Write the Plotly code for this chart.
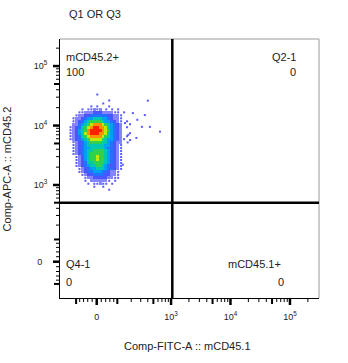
import numpy as np
import plotly.graph_objects as go

# ---------------------------------------------------------------- scale
LN10 = np.log(10.0)
FITC_W = 113.0   # near-linear width of the FITC biexponential axis
APC_W = 103.0    # near-linear width of the APC biexponential axis


def biex(v, w):
    """Biexponential (arcsinh) display transform, in decades."""
    return np.arcsinh(np.asarray(v, dtype=float) / w) / LN10


X_RANGE = [-0.617, 3.736]
Y_RANGE = [-0.610, 3.743]


def to_frac(d, rng):
    """Display decades -> fraction of the plotting area."""
    return (np.asarray(d, dtype=float) - rng[0]) / (rng[1] - rng[0])


# ---------------------------------------------------------------- ticks
major_vals = [0, 1e3, 1e4, 1e5]
x_major_text = ["0", "10<sup>3</sup>", "10<sup>4</sup>", "10<sup>5</sup>"]
y_major_text = ["0\u2007", "10<sup>3</sup>", "10<sup>4</sup>", "10<sup>5</sup>"]
mid_vals = [-100, 100, 500, 5000, 50000]
minor_vals = ([-80, -60, -40, -20, 20, 40, 60, 80]
              + [200, 300, 400, 600, 700, 800, 900]
              + [2000, 3000, 4000, 6000, 7000, 8000, 9000]
              + [20000, 30000, 40000, 60000, 70000, 80000, 90000, 200000])

# ---------------------------------------------------------------- gates
FITC_GATE = 1050.0
APC_GATE = 500.0

sample_title = "Q1 OR Q3"
x_title = "Comp-FITC-A :: mCD45.1"
y_title = "Comp-APC-A :: mCD45.2"
quad_names = ["mCD45.2+", "Q2-1", "Q4-1", "mCD45.1+"]
quad_freqs = ["100", "0", "0", "0"]

# ------------------------------------------------- population density
# Density level per bin ('.' = no events, 1 = sparse ... a = highest).
# Bins are 0.05 decades wide on both display axes; rows run top -> bottom.
GRID_STEP = 0.05
GRID_X0 = -0.44     # centre of first column (FITC display decades)
GRID_Y0 = 2.810     # centre of first row (APC display decades)
density_rows = [
    ".........1............",
    "......................",
    ".............1........",
    "...........1..........",
    ".......1.1...1........",
    "....1.11212.1.1.1.....",
    "...11222333222211.1...",
    "..1223344444433221....",
    ".12234556665543221....",
    ".12345677776554321.1..",
    ".22456789998765432..1.",
    "12346789aa99865432.1..",
    "1235679aaaa9875432....",
    "1235689aaa99865432..1.",
    "123467899998765432.1..",
    "1234567888876554321...",
    ".12345677776654322....",
    ".12345666666554321....",
    ".12345566666544321....",
    ".12345667777654321....",
    ".12345677777654321....",
    "..1235677877654321....",
    "..1235677877654321....",
    "..1234667777654321....",
    "..1234566776543321....",
    "...123455666544321....",
    "...12344555443221.....",
    "....1233444433221.....",
    ".....122333332211.....",
    ".....1.2222221.1......",
    "......1.11211.1.......",
    "........1..1..........",
    ".............1........",
    "......................",
]

# isolated events away from the main population (FITC, APC)
stray_fitc = [400, 215, 355, 315, 435, 650, 190, 250, 150, 135, 175, 260, 170]
stray_apc = [26200, 16200, 15000, 9500, 9500, 7900, 5700, 6200, 11000, 2200, 7000, 12500, 5200]

level_colors = ["#5a5aff", "#8484ff", "#4a56ff", "#2272ff", "#00a0f0",
                "#00c8b0", "#30d050", "#c0e800", "#ff9000", "#ff2000"]

# ---------------------------------------------------------------- build
levels = "123456789a"
z = []
sparse_x, sparse_y = [], []
for r, row in enumerate(density_rows):
    zr = []
    for c, ch in enumerate(row):
        lv = levels.index(ch) + 1 if ch in levels else None
        if lv == 1:
            sparse_x.append(GRID_X0 + GRID_STEP * c)
            sparse_y.append(GRID_Y0 - GRID_STEP * r)
            lv = None
        zr.append(np.nan if lv is None else lv)
    z.append(zr)
z = np.array(z, dtype=float)
xc = GRID_X0 + GRID_STEP * np.arange(z.shape[1])
yc = GRID_Y0 - GRID_STEP * np.arange(z.shape[0])

n = len(level_colors)
cscale = []
for i, col in enumerate(level_colors):
    cscale.append([i / n, col])
    cscale.append([(i + 1) / n, col])

fig = go.Figure()
fig.add_trace(go.Heatmap(x=xc, y=yc, z=z, zmin=0.5, zmax=n + 0.5,
                         colorscale=cscale, showscale=False, zsmooth=False,
                         hoverinfo="skip"))
fig.add_trace(go.Scatter(
    x=sparse_x + list(biex(stray_fitc, FITC_W)),
    y=sparse_y + list(biex(stray_apc, APC_W)),
    mode="markers", hoverinfo="skip",
    marker=dict(size=2, color=level_colors[0], symbol="square", line=dict(width=0))))

FONT = "Arial, 'Liberation Sans', sans-serif"
TXT = "#222222"

PLOT_W, PLOT_H = 259, 259
axis_common = dict(ticks="outside", ticklen=7, tickcolor="rgba(0,0,0,0)",
                   ticklabelstandoff=3, showgrid=False, zeroline=False,
                   showline=True, linecolor="black", linewidth=1, tickmode="array",
                   tickfont=dict(family=FONT, size=9, color=TXT))
fig.update_layout(
    width=348, height=363,
    margin=dict(l=60, r=348 - 60 - PLOT_W, t=39, b=363 - 39 - PLOT_H),
    plot_bgcolor="white", paper_bgcolor="white",
    showlegend=False,
    font=dict(family=FONT, color=TXT, size=9),
    xaxis=dict(range=X_RANGE, tickvals=list(biex(major_vals, FITC_W)),
               ticktext=x_major_text, **axis_common),
    yaxis=dict(range=Y_RANGE, tickvals=list(biex(major_vals, APC_W)),
               ticktext=y_major_text, **axis_common),
)

# tick marks drawn outside the frame: (values, length px, width px)
tick_sets = [(major_vals, 7, 2.5), (mid_vals, 6, 2), (minor_vals, 4, 1)]
for vals, ln, wd in tick_sets:
    for f in to_frac(biex(vals, FITC_W), X_RANGE):
        fig.add_shape(type="line", xref="paper", yref="paper",
                      x0=float(f), x1=float(f), y0=0, y1=-ln / PLOT_H,
                      line=dict(color="black", width=wd))
    for f in to_frac(biex(vals, APC_W), Y_RANGE):
        fig.add_shape(type="line", xref="paper", yref="paper",
                      y0=float(f), y1=float(f), x0=0, x1=-ln / PLOT_W,
                      line=dict(color="black", width=wd))

# frame: grey top/right edges
fig.add_shape(type="line", xref="paper", yref="paper", x0=0, x1=1, y0=1, y1=1,
              line=dict(color="#9a9a9a", width=1))
fig.add_shape(type="line", xref="paper", yref="paper", x0=1, x1=1, y0=0, y1=1,
              line=dict(color="#9a9a9a", width=1))

# quadrant gate
gx = float(biex(FITC_GATE, FITC_W))
gy = float(biex(APC_GATE, APC_W))
fig.add_shape(type="line", xref="x", yref="paper", x0=gx, x1=gx, y0=0, y1=1,
              line=dict(color="black", width=2.5))
fig.add_shape(type="line", xref="paper", yref="y", x0=0, x1=1, y0=gy, y1=gy,
              line=dict(color="black", width=2.5))

LBL = dict(family=FONT, size=11, color=TXT)
# name / frequency pairs: (x, anchor, y name, y freq)
quad_pos = [(0.016, "left", 0.932, 0.874),
            (0.918, "right", 0.932, 0.874),
            (0.016, "left", 0.130, 0.063),
            (0.862, "right", 0.130, 0.063)]
freq_dx = [0, 0, 0, 0.012]
for (qx, anc, yn, yf), name, freq, fdx in zip(quad_pos, quad_names, quad_freqs, freq_dx):
    fig.add_annotation(x=qx, y=yn, xref="paper", yref="paper", text=name,
                       showarrow=False, xanchor=anc, yanchor="middle", font=LBL)
    fig.add_annotation(x=qx + fdx, y=yf, xref="paper", yref="paper", text=freq,
                       showarrow=False, xanchor=anc, yanchor="middle", font=LBL)

fig.add_annotation(x=0.026, y=1.0965, xref="paper", yref="paper", text=sample_title,
                   showarrow=False, xanchor="left", yanchor="middle", font=LBL)
fig.add_annotation(x=0.493, y=-0.185, xref="paper", yref="paper", text=x_title,
                   showarrow=False, xanchor="center", yanchor="middle", font=LBL)
fig.add_annotation(x=-0.205, y=0.5, xref="paper", yref="paper", text=y_title,
                   showarrow=False, xanchor="center", yanchor="middle", textangle=-90,
                   font=LBL)

fig.write_html("out.html")
